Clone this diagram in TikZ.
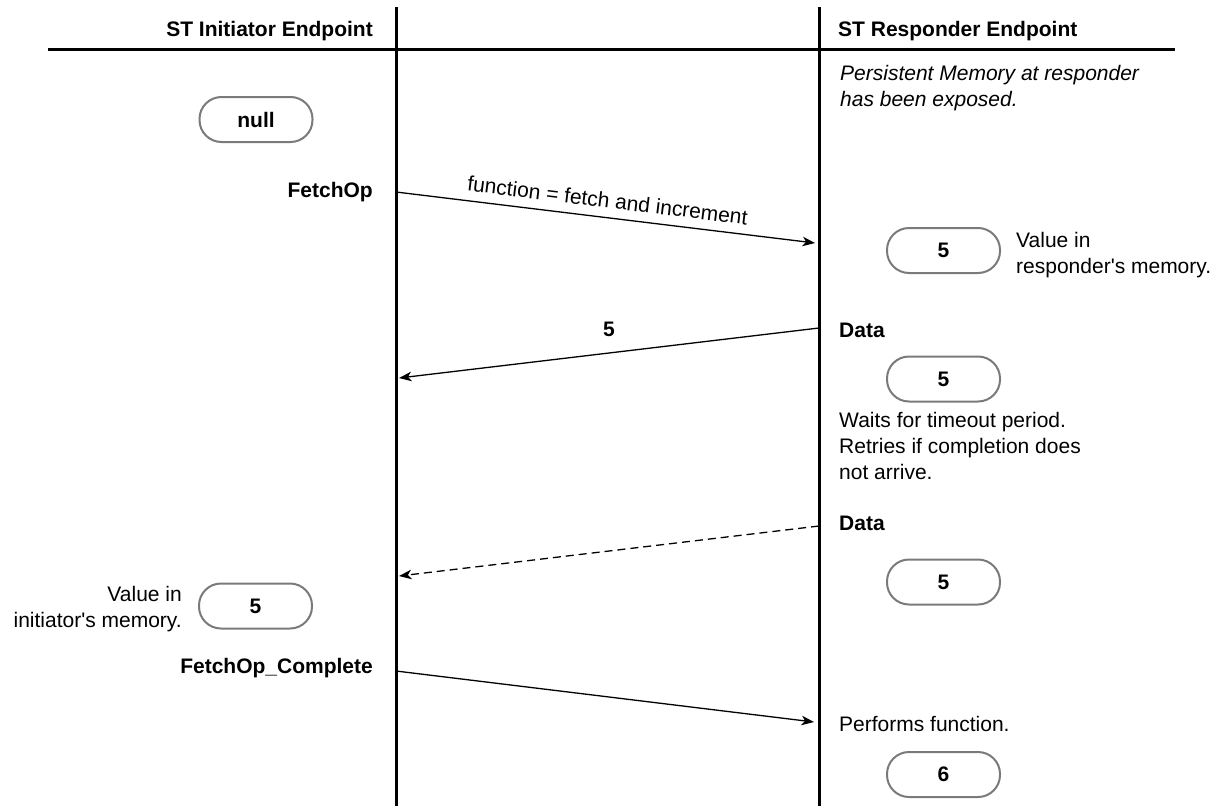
\documentclass[tikz,border=0pt]{standalone}
\usepackage{fontspec}
\setmainfont{Liberation Sans}
\usetikzlibrary{arrows.meta}
\definecolor{pillgray}{RGB}{122,122,122}
\begin{document}
\begin{tikzpicture}[x=1pt,y=-1pt,
  every node/.style={font=\fontsize{21}{26}\selectfont, inner sep=0pt},
  lbl/.style={font=\fontsize{21}{26}\selectfont\bfseries},
  note/.style={align=left, anchor=north west},
  pill/.style={draw=pillgray, line width=2pt, rounded corners=22pt,
    minimum width=113pt, minimum height=45pt,
    font=\fontsize{21}{26}\selectfont\bfseries},
  lifeline/.style={line width=3pt},
  msg/.style={line width=1.3pt, -{Stealth[length=12.5pt,width=9.5pt,inset=3.5pt]}},
  retry/.style={msg, dash pattern=on 8pt off 5pt},
  ]
\useasboundingbox (0,0) rectangle (1231,806);

% header rule and lifelines
\coordinate (ruleL) at (48,49);
\coordinate (ruleR) at (1175,49);
\coordinate (initTop) at (396,7);
\coordinate (initBot) at (396,806);
\coordinate (respTop) at (819,7);
\coordinate (respBot) at (819,806);
\draw[lifeline] (ruleL) -- (ruleR);
\draw[lifeline] (initTop) -- (initBot);
\draw[lifeline] (respTop) -- (respBot);

% column headings
\node[lbl, anchor=base east] (hInit) at (373,36) {ST Initiator Endpoint};
\node[lbl, anchor=base west] (hResp) at (838,36) {ST Responder Endpoint};

% initiator side
\node[pill] (vNull) at (256,119.5) {null};
\node[lbl, anchor=base east] (fetchOp) at (373,197) {FetchOp};
\node[pill] (vInit) at (255.5,606) {5};
\node[anchor=north east, align=right] (noteInit) at (182,586)
  {Value in\\initiator\textquotesingle s memory.};
\node[lbl, anchor=base east] (fetchDone) at (373,673) {FetchOp\_Complete};

% responder side
\node[note, font=\fontsize{21}{26}\selectfont\itshape] (noteExp) at (840,65)
  {Persistent Memory at responder\\has been exposed.};
\node[pill] (vResp1) at (943.5,250.5) {5};
\node[note] (noteResp) at (1016,232) {Value in\\responder\textquotesingle s memory.};
\node[lbl, anchor=base west] (data1) at (839,337) {Data};
\node[pill] (vResp2) at (943.5,379) {5};
\node[note] (noteWait) at (839,412) {Waits for timeout period.\\Retries if completion does\\not arrive.};
\node[lbl, anchor=base west] (data2) at (839,530) {Data};
\node[pill] (vResp3) at (943.5,582) {5};
\node[anchor=base west] (perform) at (839,731) {Performs function.};
\node[pill] (vResp4) at (943.5,774.5) {6};

% message end points on the lifelines
\coordinate (m1s) at (396,192);
\coordinate (m1e) at (815,243);
\coordinate (m2s) at (819,328);
\coordinate (m2e) at (399,378);
\coordinate (m3s) at (819,526);
\coordinate (m3e) at (399,576);
\coordinate (m4s) at (396,671);
\coordinate (m4e) at (814,722);

% messages
\draw[msg] (m1s) -- node[sloped, above=9pt] (fnLabel) {function = fetch and increment} (m1e);
\draw[msg] (m2s) -- node[lbl, above=16pt] (dataVal) {5} (m2e);
\draw[retry] (m3s) -- (m3e);
\draw[msg] (m4s) -- (m4e);
\end{tikzpicture}
\end{document}
